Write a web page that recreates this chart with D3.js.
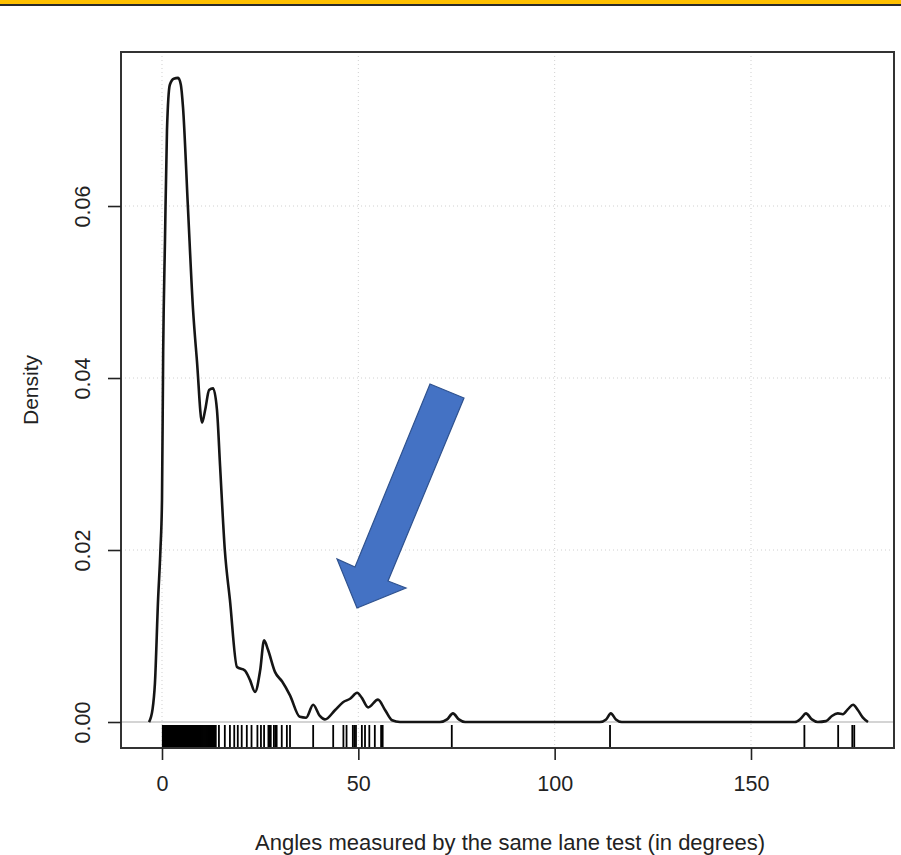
<!DOCTYPE html>
<html lang="en">
<head>
<meta charset="UTF-8">
<title>Density of angles</title>
<script src="https://d3js.org/d3.v7.min.js"></script>
<style>
    body, html { margin: 0; padding: 0; background: #fff; overflow: hidden; }
    text { font-family: "Liberation Sans", Arial, sans-serif; fill: #222; }
</style>
</head>
<body>
<svg id="chart" width="901" height="855"></svg>
<script>
// density curve: angle (deg) and density
var curveX = [-3.3, -2.4, -1.8, -1.0, -0.4, 0.0, 0.3, 0.76, 1.27, 2.0, 3.0, 4.1, 4.8, 5.35, 6.6, 7.9, 8.9,
    10.2, 11.0, 12.0, 13.0, 14.0, 14.8, 16.0, 17.3, 19.1, 21.1, 22.4, 23.7, 25.0, 26.0, 27.0,
    28.8, 30.6, 32.6, 35.1, 36.7, 38.5, 40.2, 41.5, 44.1, 46.1, 47.9, 49.7, 50.9, 52.5, 55.0,
    56.8, 58.6, 60.6, 70.8, 72.6, 74.1, 75.6, 77.2, 111.5, 113.1, 114.3, 115.6, 117.1, 161.2,
    162.7, 164.0, 165.5, 167.0, 169.1, 170.6, 172.1, 173.4, 174.7, 176.0, 177.2, 178.5, 179.8];
var curveY = [0.0, 0.0015, 0.0045, 0.0142, 0.0200, 0.0258, 0.0430, 0.0560, 0.0688, 0.0741, 0.0748, 0.0749, 0.0741, 0.0715, 0.0599, 0.0480, 0.0420,
    0.0348, 0.0363, 0.0386, 0.0388, 0.0363, 0.0297, 0.0200, 0.0142, 0.0064, 0.0060, 0.0049, 0.0035, 0.0060, 0.0095, 0.0084,
    0.0058, 0.0047, 0.0031, 0.0006, 0.0005, 0.0020, 0.0007, 0.0003, 0.0014, 0.0023, 0.0027, 0.0034, 0.0028, 0.0017, 0.0026,
    0.0014, 0.0002, 0.0, 0.0, 0.0003, 0.0010, 0.0003, 0.0, 0.0, 0.0003, 0.0010, 0.0003, 0.0, 0.0,
    0.0004, 0.0010, 0.0003, 0.0, 0.0001, 0.0007, 0.0010, 0.0009, 0.0015, 0.0020, 0.0014, 0.0005, 0.0];

// individual measurements shown as the rug
var rugValues = [0.2, 0.45, 0.7, 0.95, 1.2, 1.45, 1.7, 1.95, 2.2, 2.45, 2.7, 2.95, 3.2, 3.45, 3.7, 3.95,
    4.2, 4.45, 4.7, 4.95, 5.2, 5.45, 5.7, 5.95, 6.2, 6.45, 6.7, 6.95, 7.2, 7.45, 7.7, 7.95,
    8.2, 8.45, 8.7, 8.95, 9.2, 9.45, 9.7, 9.95, 10.2, 10.45, 10.7, 10.95, 11.2, 11.45, 11.7, 11.95,
    12.2, 12.45, 12.7, 12.95, 13.2, 13.45, 13.7,
    14.5, 16.0, 17.3, 18.4, 19.3, 20.3, 21.6, 22.8, 24.3, 25.2, 26.0, 27.1, 27.4, 27.7, 28.5, 28.9, 29.2,
    30.5, 31.8, 32.6, 38.5, 43.6, 46.2, 47.0, 48.6, 49.0, 49.4, 50.9, 51.7, 52.8, 54.2, 55.8, 56.2,
    73.8, 114.1, 163.6, 172.2, 175.8, 176.3];

var xTicks = [0, 50, 100, 150];
var yTicks = [0.00, 0.02, 0.04, 0.06];
var xTitle = "Angles measured by the same lane test (in degrees)";
var yTitle = "Density";

var svg = d3.select("#chart");

// top banner
svg.append("rect").attr("x", 0).attr("y", 0).attr("width", 901).attr("height", 5).attr("fill", "#FFC000");
svg.append("rect").attr("x", 0).attr("y", 4).attr("width", 901).attr("height", 2).attr("fill", "#2b2b2b");

// plot box (pixels)
var boxL = 121, boxR = 894, boxT = 52, boxB = 748;

var x = d3.scaleLinear().domain([-10.44, 186.42]).range([boxL, boxR]);
var y = d3.scaleLinear().domain([-0.003023, 0.07791]).range([boxB, boxT]);

// dotted grid
var grid = svg.append("g").attr("stroke", "#d0d0d0").attr("stroke-width", 1).attr("stroke-dasharray", "1,3");
grid.selectAll(".gx").data(xTicks).enter().append("line")
    .attr("x1", d => x(d)).attr("x2", d => x(d)).attr("y1", boxT).attr("y2", boxB);
grid.selectAll(".gy").data(yTicks.slice(1)).enter().append("line")
    .attr("x1", boxL).attr("x2", boxR).attr("y1", d => y(d)).attr("y2", d => y(d));

// zero line
svg.append("line").attr("x1", boxL).attr("x2", boxR).attr("y1", y(0)).attr("y2", y(0))
    .attr("stroke", "#aaa").attr("stroke-width", 1.2);

// rug
svg.append("g").selectAll("line").data(rugValues).enter().append("line")
    .attr("x1", d => x(d)).attr("x2", d => x(d))
    .attr("y1", boxB).attr("y2", boxB - 23)
    .attr("stroke", "#000").attr("stroke-width", 1.8);

// density curve
var pts = curveX.map((v, i) => [v, curveY[i]]);
svg.append("path").datum(pts)
    .attr("fill", "none").attr("stroke", "#151515").attr("stroke-width", 2.6)
    .attr("stroke-linejoin", "round")
    .attr("d", d3.line().x(d => x(d[0])).y(d => y(d[1])).curve(d3.curveMonotoneX));

// box
svg.append("rect").attr("x", boxL).attr("y", boxT).attr("width", boxR - boxL).attr("height", boxB - boxT)
    .attr("fill", "none").attr("stroke", "#333").attr("stroke-width", 2);

// x axis
var xAxis = svg.append("g").attr("transform", "translate(0," + boxB + ")")
    .call(d3.axisBottom(x).tickValues(xTicks).tickSize(12).tickPadding(16).tickFormat(d3.format("d")));
xAxis.select(".domain").remove();
xAxis.selectAll("line").attr("stroke", "#222").attr("stroke-width", 1.6);
xAxis.selectAll("text").style("font-size", "21.5px").attr("fill", "#222");

// y axis, labels turned like base R
var yAxis = svg.append("g").attr("transform", "translate(" + boxL + ",0)")
    .call(d3.axisLeft(y).tickValues(yTicks).tickSize(13).tickFormat(d3.format(".2f")));
yAxis.select(".domain").remove();
yAxis.selectAll("line").attr("stroke", "#222").attr("stroke-width", 1.6);
yAxis.selectAll("text")
    .attr("x", null).attr("dy", null)
    .attr("text-anchor", "middle")
    .attr("transform", "translate(-38,0) rotate(-90)")
    .attr("dominant-baseline", "central")
    .style("font-size", "21.5px").attr("fill", "#222");

// titles
svg.append("text").attr("x", 510).attr("y", 850)
    .attr("text-anchor", "middle").style("font-size", "22px").text(xTitle);
svg.append("text").attr("transform", "translate(30,390) rotate(-90)")
    .attr("text-anchor", "middle").attr("dominant-baseline", "central")
    .style("font-size", "21px").text(yTitle);

// annotation arrow
var arrow = [[430, 384], [464, 398], [388, 581], [406, 588], [357, 608], [337, 559], [355, 567]];
svg.append("polygon").attr("points", arrow.map(p => p.join(",")).join(" "))
    .attr("fill", "#4472C4").attr("stroke", "#2F528F").attr("stroke-width", 1.2);
</script>
</body>
</html>
